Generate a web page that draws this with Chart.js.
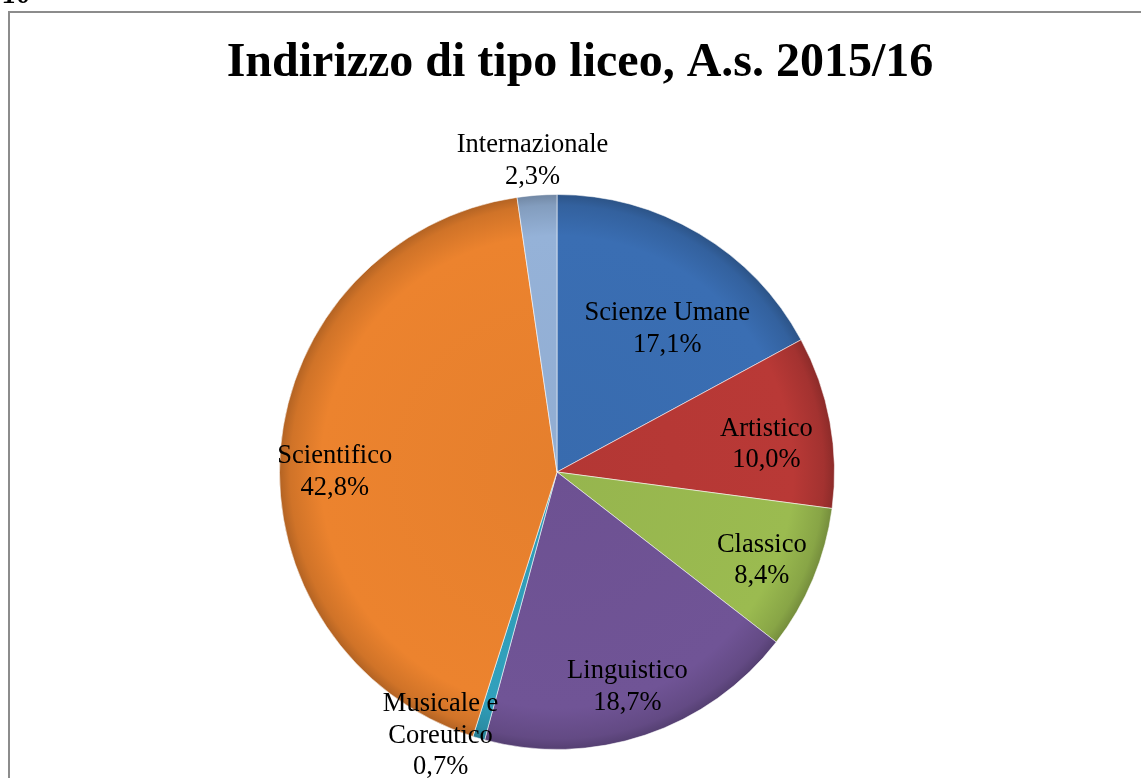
<!DOCTYPE html>
<html>
<head>
<meta charset="utf-8">
<script src="https://cdn.jsdelivr.net/npm/chart.js@4.4.1/dist/chart.umd.min.js"></script>
<style>
  html, body { margin: 0; padding: 0; background: #fff; overflow: hidden; }
  #wrap { position: relative; width: 1141px; height: 778px; }
  #grafica { position: absolute; left: 0; top: 0; }
  #cornice { position: absolute; left: 8px; top: 11px; width: 1200px; height: 900px;
             border: 2px solid #8c8c8c; pointer-events: none; }
  #num { position: absolute; left: 3px; top: -22px; font: italic bold 28px "Liberation Serif", serif; color: #000; }
</style>
</head>
<body>
<div id="wrap">
  <canvas id="grafica" width="1141" height="778"></canvas>
  <div id="cornice"></div>
  <div id="num">10</div>
</div>
<script>
// dati
const categorie = ['Scienze Umane', 'Artistico', 'Classico', 'Linguistico', 'Musicale e Coreutico', 'Scientifico', 'Internazionale'];
const righeEtichetta = [['Scienze Umane'], ['Artistico'], ['Classico'], ['Linguistico'], ['Musicale e', 'Coreutico'], ['Scientifico'], ['Internazionale']];
const percentuali = [17.1, 10.0, 8.4, 18.7, 0.7, 42.8, 2.3];
const colori = ['#3a6eb3', '#b93936', '#9bbb50', '#705496', '#31a0bc', '#ec832e', '#95b2d8'];
const titolo = 'Indirizzo di tipo liceo, A.s. 2015/16';

// posizione etichette: frazione del raggio + piccoli spostamenti
const raggioEtichetta = [0.65, 0.76, 0.80, 0.81, 1.04, 0.80, 1.12];
const spostamento = [[18, 12], [2, 11], [0, 3], [-1, 2], [-35, -13], [-1, 18], [-2, -1]];

function scurisci(hex, f) {
  const n = parseInt(hex.slice(1), 16);
  const r = Math.round(((n >> 16) & 255) * f), g = Math.round(((n >> 8) & 255) * f), b = Math.round((n & 255) * f);
  return 'rgb(' + Math.min(255, r) + ',' + Math.min(255, g) + ',' + Math.min(255, b) + ')';
}

// titolo disegnato a mano (centrato sul riquadro, non sull'area del grafico)
const titoloPlugin = {
  id: 'titolo',
  afterDraw(chart) {
    const ctx = chart.ctx;
    ctx.save();
    ctx.font = 'bold 48px "Liberation Serif", serif';
    ctx.fillStyle = '#000';
    ctx.textAlign = 'center';
    ctx.textBaseline = 'alphabetic';
    ctx.fillText(titolo, 580, 75.5);
    ctx.restore();
  }
};

const etichettePlugin = {
  id: 'etichette',
  afterDatasetsDraw(chart) {
    const ctx = chart.ctx;
    const meta = chart.getDatasetMeta(0);
    ctx.save();
    ctx.font = '26.5px "Liberation Serif", serif';
    ctx.fillStyle = '#000';
    ctx.textAlign = 'center';
    ctx.textBaseline = 'middle';
    meta.data.forEach(function (arc, i) {
      const p = arc.getProps(['x', 'y', 'startAngle', 'endAngle', 'outerRadius'], true);
      const a = (p.startAngle + p.endAngle) / 2;
      const r = p.outerRadius * raggioEtichetta[i];
      const x = p.x + Math.cos(a) * r + spostamento[i][0];
      const y = p.y + Math.sin(a) * r + spostamento[i][1];
      const righe = righeEtichetta[i].concat([percentuali[i].toFixed(1).replace('.', ',') + '%']);
      const h = 31.5;
      righe.forEach(function (t, k) {
        ctx.fillText(t, x, y + (k - (righe.length - 1) / 2) * h);
      });
    });
    ctx.restore();
  }
};

const graph = document.getElementById('grafica');
const grafico = new Chart(graph, {
  type: 'pie',
  data: {
    labels: categorie,
    datasets: [{
      data: percentuali,
      backgroundColor: function (c) {
        const chart = c.chart;
        if (!chart.chartArea) return colori[c.dataIndex];
        const cx = (chart.chartArea.left + chart.chartArea.right) / 2;
        const cy = (chart.chartArea.top + chart.chartArea.bottom) / 2;
        const R = Math.min(chart.chartArea.width, chart.chartArea.height) / 2;
        const g = chart.ctx.createRadialGradient(cx, cy, 0, cx, cy, R);
        const base = colori[c.dataIndex];
        g.addColorStop(0, scurisci(base, 0.97));
        g.addColorStop(0.85, base);
        g.addColorStop(0.96, scurisci(base, 0.88));
        g.addColorStop(1, scurisci(base, 0.75));
        return g;
      },
      borderColor: 'rgba(255,255,255,0.55)',
      borderWidth: 1
    }]
  },
  options: {
    responsive: false,
    animation: false,
    layout: { padding: { top: 194, bottom: 28, left: 200, right: 227 } },
    plugins: {
      legend: { display: false },
      tooltip: { enabled: false },
      title: { display: false }
    }
  },
  plugins: [etichettePlugin, titoloPlugin]
});
</script>
</body>
</html>
